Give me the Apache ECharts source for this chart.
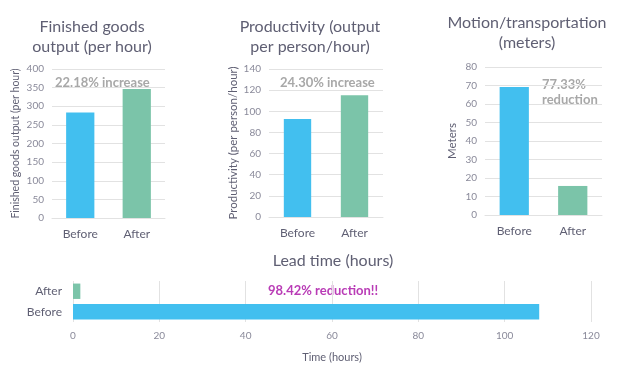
<!DOCTYPE html>
<html>
<head>
<meta charset="utf-8">
<script src="https://cdn.jsdelivr.net/npm/echarts@6/dist/echarts.min.js"></script>
<style>
  html, body { margin: 0; padding: 0; background: #fff; }
  #chart { width: 620px; height: 375px; }
</style>
</head>
<body>
<div id="chart"></div>
<script>
// data
const categories = ['Before', 'After']
const goodsOutput = [283, 346]
const productivity = [92.7, 115.2]
const motionMeters = [69.2, 15.7]
const leadTimeHours = [108, 1.7]

const chartTitles = [
  'Finished goods\noutput (per hour)',
  'Productivity (output\nper person/hour)',
  'Motion/transportation\n(meters)',
  'Lead time (hours)'
]
const notes = ['22.18% increase', '24.30% increase', '77.33%\nreduction', '98.42% reduction!!']

const BLUE = '#42bfef'
const GREEN = '#7bc4a9'
const FONT = 'Lato'
const TEXT = '#5f5f73'
const LABEL = '#8a8a9a'
const GRID_LINE = '#e2e2e2'

const chart = echarts.init(document.getElementById('chart'), null, { renderer: 'canvas' })

const barColor = (p) => (p.name === 'Before' ? BLUE : GREEN)

const titleStyle = { fontFamily: FONT, fontSize: 16, fontWeight: 'normal', color: TEXT, lineHeight: 20 }

const catAxis = (gridIndex) => ({
  type: 'category',
  gridIndex,
  data: categories,
  axisTick: { show: false },
  axisLine: { lineStyle: { color: GRID_LINE } },
  axisLabel: { fontFamily: FONT, fontSize: 12, color: TEXT, margin: 10 }
})

const valAxis = (gridIndex, max, interval, name, nameGap, nameSize) => ({
  type: 'value',
  gridIndex,
  min: 0,
  max,
  interval,
  name,
  nameLocation: 'middle',
  nameGap,
  nameTextStyle: { fontFamily: FONT, fontSize: nameSize, color: TEXT },
  axisLine: { show: false },
  axisTick: { show: false },
  axisLabel: { fontFamily: FONT, fontSize: 10, color: LABEL, margin: 8 },
  splitLine: { lineStyle: { color: GRID_LINE } }
})

const noteStyle = { fontFamily: FONT, fontSize: 13, fontWeight: 'bold', fill: '#a8a8a8' }

chart.setOption({
  animation: false,
  title: [
    { text: chartTitles[0], left: 87, top: 12, textAlign: 'center', textStyle: titleStyle },
    { text: chartTitles[1], left: 305, top: 12, textAlign: 'center', textStyle: titleStyle },
    { text: chartTitles[2], left: 522, top: 8, textAlign: 'center', textStyle: titleStyle },
    { text: chartTitles[3], left: 328, top: 246, textAlign: 'center', textStyle: titleStyle }
  ],
  grid: [
    { left: 52, top: 69, width: 113, height: 149 },
    { left: 269, top: 69, width: 114, height: 148 },
    { left: 485, top: 67, width: 117, height: 148 },
    { left: 73, top: 281, width: 518, height: 41 }
  ],
  xAxis: [
    catAxis(0),
    catAxis(1),
    catAxis(2),
    {
      type: 'value',
      gridIndex: 3,
      min: 0,
      max: 120,
      interval: 20,
      name: 'Time (hours)',
      nameLocation: 'middle',
      nameGap: 30,
      nameTextStyle: { fontFamily: FONT, fontSize: 11, color: TEXT },
      axisLine: { show: false },
      axisTick: { show: false },
      axisLabel: { fontFamily: FONT, fontSize: 10, color: LABEL, margin: 9 },
      splitLine: { lineStyle: { color: GRID_LINE } }
    }
  ],
  yAxis: [
    valAxis(0, 400, 50, 'Finished goods output (per hour)', 31, 10.5),
    valAxis(1, 140, 20, 'Productivity (per person/hour)', 29, 11.5),
    valAxis(2, 80, 10, 'Meters', 27, 11.5),
    {
      type: 'category',
      gridIndex: 3,
      data: categories,
      axisTick: { show: false },
      axisLine: { show: false },
      axisLabel: { fontFamily: FONT, fontSize: 12, color: TEXT, margin: 11 }
    }
  ],
  series: [
    { type: 'bar', xAxisIndex: 0, yAxisIndex: 0, data: goodsOutput, barCategoryGap: '50%', itemStyle: { color: barColor } },
    { type: 'bar', xAxisIndex: 1, yAxisIndex: 1, data: productivity, barCategoryGap: '52%', itemStyle: { color: barColor } },
    { type: 'bar', xAxisIndex: 2, yAxisIndex: 2, data: motionMeters, barCategoryGap: '50%', itemStyle: { color: barColor } },
    { type: 'bar', xAxisIndex: 3, yAxisIndex: 3, data: leadTimeHours, barCategoryGap: '25%', itemStyle: { color: barColor } }
  ],
  graphic: [
    { type: 'text', left: 55, top: 76, style: Object.assign({ text: notes[0] }, noteStyle) },
    { type: 'text', left: 280, top: 76, style: Object.assign({ text: notes[1] }, noteStyle) },
    { type: 'text', left: 542, top: 77, style: Object.assign({ text: notes[2], align: 'center', lineHeight: 15, width: 58 }, noteStyle) },
    { type: 'text', left: 268, top: 284, style: { text: notes[3], fontFamily: FONT, fontSize: 13, fontWeight: 'bold', fill: '#b93cb6' } }
  ]
})
</script>
</body>
</html>
